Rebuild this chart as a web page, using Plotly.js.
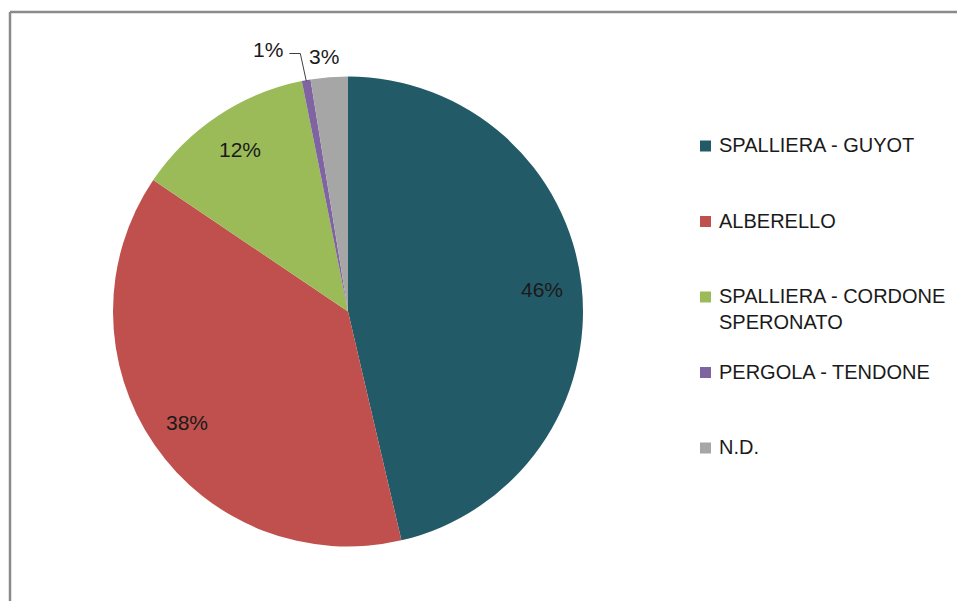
<!DOCTYPE html>
<html>
<head>
<meta charset="utf-8">
<script src="https://cdn.plot.ly/plotly-3.0.1.min.js"></script>
<style>html,body{margin:0;padding:0;background:#fff;}#chart{width:957px;height:601px;}</style>
</head>
<body>
<div id="chart"></div>
<script>
// Data (percent shares)
var labels = ['SPALLIERA - GUYOT', 'ALBERELLO', 'SPALLIERA - CORDONE<br>SPERONATO', 'PERGOLA - TENDONE', 'N.D.'];
var values = [46.35, 38.1, 12.4, 0.6, 2.55];
var colors = ['#235A67', '#C0504D', '#9BBB59', '#8064A2', '#A6A6A6'];
var labelPlace = ['inside', 'inside', 'inside', 'leader', 'outside'];

var W = 957, H = 601;
var FONT = 'Liberation Sans, Arial, sans-serif';
var TXT = '#1a1a1a';
// pie geometry (layout)
var cx = 348, cy = 311.5, R = 235;
var domX = [(cx - R) / W, (cx + R) / W];
var domY = [1 - (cy + R) / H, 1 - (cy - R) / H];
function px2x(p) { return p / W; }
function px2y(p) { return 1 - p / H; }

var total = values.reduce(function (a, b) { return a + b; }, 0);
var pctText = values.map(function (v) { return Math.round(v / total * 100) + '%'; });

var trace = {
  type: 'pie',
  labels: labels,
  values: values,
  sort: false,
  direction: 'clockwise',
  rotation: 0,
  domain: {x: domX, y: domY},
  marker: {colors: colors, line: {width: 0}},
  textinfo: 'none',
  showlegend: false,
  hoverinfo: 'label+percent'
};

var annotations = [];
var shapes = [];
var labFont = {family: FONT, size: 21, color: TXT};
var cum = 0;
values.forEach(function (v, i) {
  var mid = (cum + v / 2) / total * 2 * Math.PI;
  cum += v;
  var s = Math.sin(mid), c = Math.cos(mid);
  if (labelPlace[i] === 'inside') {
    var rr = 0.83 * R;
    annotations.push({
      xref: 'paper', yref: 'paper', x: px2x(cx + s * rr), y: px2y(cy - c * rr),
      text: pctText[i], showarrow: false, xanchor: 'center', yanchor: 'middle', font: labFont
    });
  } else if (labelPlace[i] === 'outside') {
    var ro = R + 21;
    annotations.push({
      xref: 'paper', yref: 'paper', x: px2x(cx + s * ro - 4), y: px2y(cy - c * ro),
      text: pctText[i], showarrow: false, xanchor: 'center', yanchor: 'middle', font: labFont
    });
  } else {
    // leader line: from slice edge up, then left to the label
    var ex = cx + s * (R - 1), ey = cy - c * (R - 1);
    var kx = ex - 6, ky = cy - R - 23;
    var tx = kx - 11;
    shapes.push({
      type: 'path', xref: 'paper', yref: 'paper',
      path: 'M' + px2x(ex) + ',' + px2y(ey) + ' L' + px2x(kx) + ',' + px2y(ky) + ' L' + px2x(tx) + ',' + px2y(ky),
      line: {color: '#404040', width: 1}
    });
    annotations.push({
      xref: 'paper', yref: 'paper', x: px2x(tx - 4), y: px2y(ky - 4),
      text: pctText[i], showarrow: false, xanchor: 'right', yanchor: 'middle', font: labFont
    });
  }
});

// legend (right side)
var legX = 700, legTextX = 717, legY0 = 146, legStep = 75.5, box = 11;
labels.forEach(function (lab, i) {
  var y = legY0 + i * legStep;
  shapes.push({
    type: 'rect', xref: 'paper', yref: 'paper',
    x0: px2x(legX), x1: px2x(legX + box),
    y0: px2y(y + box / 2), y1: px2y(y - box / 2),
    fillcolor: colors[i], line: {width: 0}
  });
  annotations.push({
    xref: 'paper', yref: 'paper', x: px2x(legTextX), y: px2y(y - 14),
    text: lab, showarrow: false, xanchor: 'left', yanchor: 'top', align: 'left',
    font: {family: FONT, size: 20, color: TXT}
  });
});

// chart frame (left and top edges)
shapes.push({type: 'line', xref: 'paper', yref: 'paper', x0: px2x(10), x1: px2x(10), y0: 0, y1: px2y(12), line: {color: '#8a8a8a', width: 2.5}});
shapes.push({type: 'line', xref: 'paper', yref: 'paper', x0: px2x(10), x1: 1, y0: px2y(12), y1: px2y(12), line: {color: '#8a8a8a', width: 2.5}});

var layout = {
  width: W, height: H,
  margin: {l: 0, r: 0, t: 0, b: 0},
  paper_bgcolor: '#ffffff',
  showlegend: false,
  font: {family: FONT, color: TXT},
  annotations: annotations,
  shapes: shapes
};

Plotly.newPlot('chart', [trace], layout, {displayModeBar: false, staticPlot: true});
</script>
</body>
</html>
